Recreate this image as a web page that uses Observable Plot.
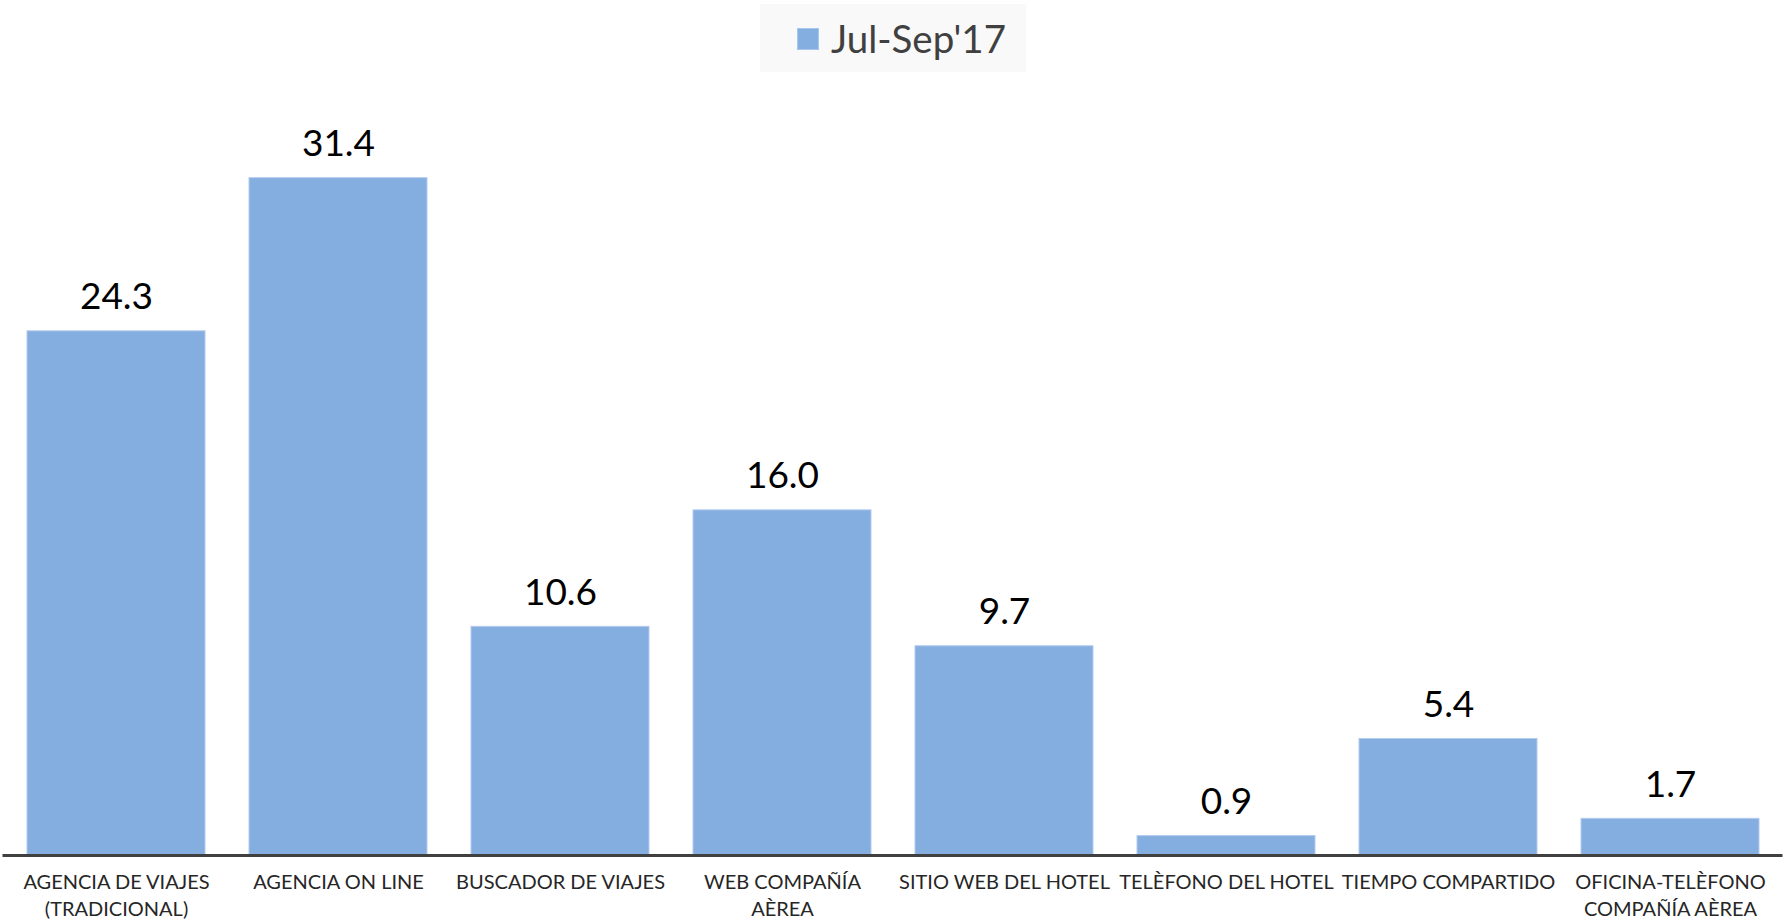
<!DOCTYPE html>
<html>
<head>
<meta charset="utf-8">
<script src="https://cdn.jsdelivr.net/npm/d3@7"></script>
<script src="https://cdn.jsdelivr.net/npm/@observablehq/plot@0.6"></script>
<style>
  html, body { margin: 0; padding: 0; background: #fff; }
  #wrap { position: relative; width: 1787px; height: 922px; overflow: hidden; }
  #legend { position: absolute; left: 760px; top: 4px; width: 266px; height: 68px; background: #f9f9f9; box-sizing: border-box;
            padding-left: 37px; display: flex; align-items: center; justify-content: flex-start; font-family: Lato, sans-serif; }
  #legend .sw { width: 22px; height: 22px; background: #85aee0; border: 1px solid #a9c6ee; box-sizing: border-box; margin-right: 12px; margin-top: 2px; }
  #legend .lb { font-size: 38.5px; color: #404040; line-height: 1; }
</style>
</head>
<body>
<div id="wrap">
  <div id="legend"><div class="sw"></div><div class="lb">Jul-Sep'17</div></div>
</div>
<script>
const categories = [
  "AGENCIA DE VIAJES (TRADICIONAL)",
  "AGENCIA ON LINE",
  "BUSCADOR DE VIAJES",
  "WEB COMPAÑÍA AÈREA",
  "SITIO WEB DEL HOTEL",
  "TELÈFONO DEL HOTEL",
  "TIEMPO COMPARTIDO",
  "OFICINA-TELÈFONO COMPAÑÍA AÈREA"
];
const tickLabels = [
  "AGENCIA DE VIAJES\n(TRADICIONAL)",
  "AGENCIA ON LINE",
  "BUSCADOR DE VIAJES",
  "WEB COMPAÑÍA\nAÈREA",
  "SITIO WEB DEL HOTEL",
  "TELÈFONO DEL HOTEL",
  "TIEMPO COMPARTIDO",
  "OFICINA-TELÈFONO\nCOMPAÑÍA AÈREA"
];
const values = [24.3, 31.4, 10.6, 16.0, 9.7, 0.9, 5.4, 1.7];
const seriesName = "Jul-Sep'17";

const data = categories.map((c, i) => ({category: c, value: values[i]}));
const labelOf = new Map(categories.map((c, i) => [c, tickLabels[i]]));

const chart = Plot.plot({
  width: 1787,
  height: 922,
  marginTop: 100,
  marginBottom: 67,
  marginLeft: 2.5,
  marginRight: 4.5,
  style: {fontFamily: "Lato, sans-serif", background: "transparent"},
  x: {domain: categories, paddingInner: 0.2, paddingOuter: 0.1, label: null},
  y: {domain: [0, 35], axis: null},
  marks: [
    Plot.barY(data, {x: "category", y: "value", fill: "#85aee0", stroke: "#b3cbee", strokeWidth: 1}),
    Plot.text(data, {x: "category", y: "value", text: d => d.value.toFixed(1), dy: -22, lineAnchor: "bottom",
      fontSize: 37, fill: "#000"}),
    Plot.ruleY([0], {stroke: "#404040", strokeWidth: 3}),
    Plot.axisX({tickSize: 0, tickPadding: 14, fontSize: 20, lineHeight: 1.35, fill: "#262626",
      tickFormat: d => labelOf.get(d), label: null})
  ]
});
chart.style.position = "absolute";
chart.style.left = "0px";
chart.style.top = "0px";
document.getElementById("wrap").prepend(chart);
document.getElementById("legend").querySelector(".lb").textContent = seriesName;
</script>
</body>
</html>
